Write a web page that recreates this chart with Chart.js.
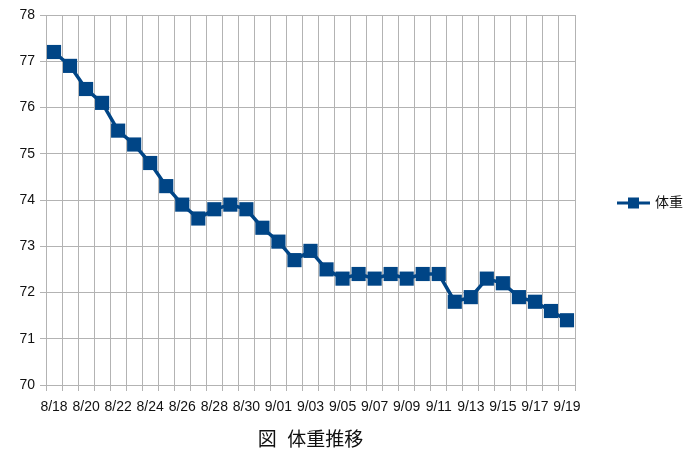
<!DOCTYPE html>
<html>
<head>
<meta charset="utf-8">
<script src="https://cdn.jsdelivr.net/npm/chart.js@4"></script>
<style>
  html, body { margin: 0; padding: 0; background: #fff; }
  #wrap { width: 699px; height: 465px; }
</style>
</head>
<body>
<div id="wrap"><canvas id="chart" width="699" height="465"></canvas></div>
<script>
// 日付ラベル
const dates = ['8/18','8/19','8/20','8/21','8/22','8/23','8/24','8/25','8/26','8/27','8/28','8/29','8/30','8/31',
  '9/01','9/02','9/03','9/04','9/05','9/06','9/07','9/08','9/09','9/10','9/11','9/12','9/13','9/14','9/15','9/16','9/17','9/18','9/19'];
// 体重 (kg)
const weights = [77.2, 76.9, 76.4, 76.1, 75.5, 75.2, 74.8, 74.3, 73.9, 73.6, 73.8, 73.9, 73.8, 73.4,
  73.1, 72.7, 72.9, 72.5, 72.3, 72.4, 72.3, 72.4, 72.3, 72.4, 72.4, 71.8, 71.9, 72.3, 72.2, 71.9, 71.8, 71.6, 71.4];
const seriesName = '体重';
const chartTitle = '図  体重推移';

const FONT = '"Liberation Sans", "Noto Sans CJK JP", sans-serif';
const BLUE = '#004586';
const GRID = '#b3b3b3';

// 凡例とタイトルを描くプラグイン
const extras = {
  id: 'extras',
  afterDraw(chart) {
    const ctx = chart.ctx;
    const area = chart.chartArea;
    ctx.save();
    // 凡例
    const ly = (area.top + area.bottom) / 2 + 3;
    const lx = 617;
    ctx.strokeStyle = BLUE;
    ctx.lineWidth = 3;
    ctx.beginPath();
    ctx.moveTo(lx, ly);
    ctx.lineTo(lx + 33, ly);
    ctx.stroke();
    ctx.fillStyle = BLUE;
    ctx.fillRect(lx + 11, ly - 5.5, 11, 11);
    ctx.fillStyle = '#111';
    ctx.font = '14px ' + FONT;
    ctx.textBaseline = 'middle';
    ctx.textAlign = 'left';
    ctx.fillText(seriesName, lx + 38, ly);
    // タイトル
    ctx.font = '19px ' + FONT;
    ctx.textAlign = 'center';
    ctx.fillText(chartTitle, (area.left + area.right) / 2, 441);
    ctx.restore();
  }
};

new Chart(document.getElementById('chart'), {
  type: 'line',
  data: {
    labels: dates,
    datasets: [{
      label: seriesName,
      data: weights,
      borderColor: BLUE,
      backgroundColor: BLUE,
      borderWidth: 3.5,
      pointStyle: 'rect',
      pointRadius: 10,
      pointBorderWidth: 0,
      pointBackgroundColor: BLUE,
      tension: 0
    }]
  },
  options: {
    responsive: false,
    animation: false,
    layout: { padding: { left: 0, top: 15, right: 124, bottom: 45 } },
    plugins: {
      legend: { display: false },
      tooltip: { enabled: false }
    },
    scales: {
      x: {
        offset: true,
        grid: { offset: true, color: GRID, lineWidth: 1, tickLength: 6 },
        border: { color: GRID },
        ticks: {
          autoSkip: false,
          maxRotation: 0,
          padding: 8,
          color: '#111',
          font: { family: FONT, size: 14 },
          callback: function (v, i) { return i % 2 === 0 ? dates[i] : ''; }
        },
        afterFit(scale) { scale.height = 35; }
      },
      y: {
        min: 70,
        max: 78,
        grid: { color: GRID, lineWidth: 1, tickLength: 6 },
        border: { color: GRID },
        ticks: {
          stepSize: 1,
          padding: 5,
          color: '#111',
          font: { family: FONT, size: 14 }
        },
        afterFit(scale) { scale.width = 46; }
      }
    }
  },
  plugins: [extras]
});
</script>
</body>
</html>
